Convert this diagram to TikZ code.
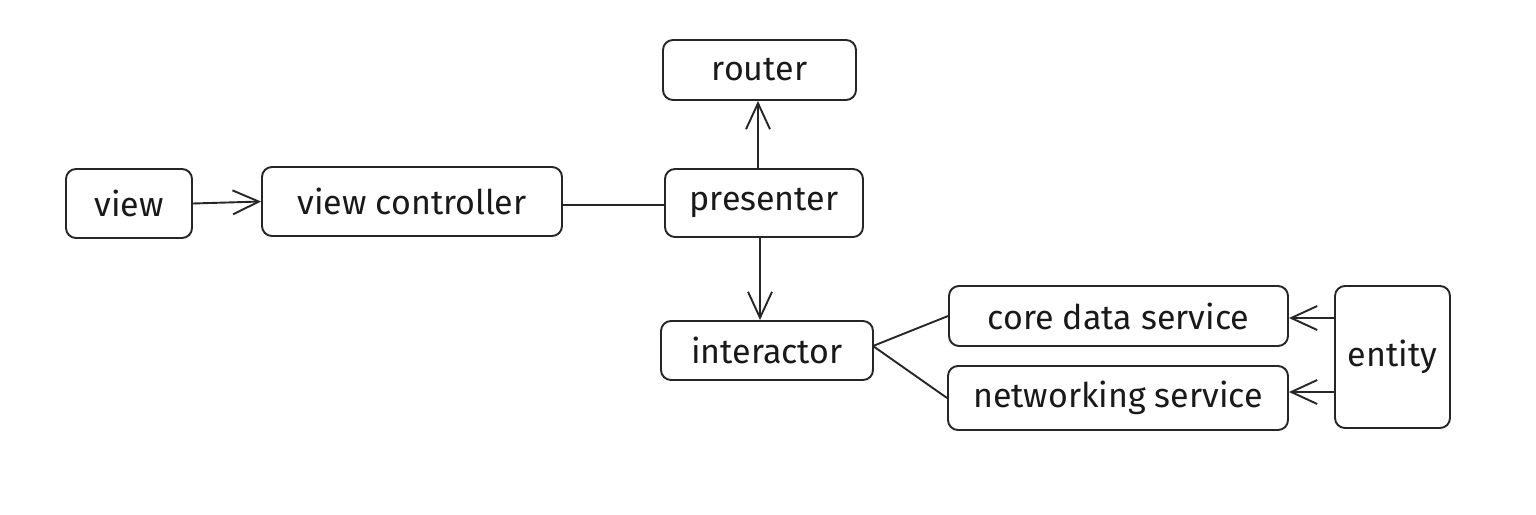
\documentclass[tikz,border=0pt]{standalone}
\usepackage{fontspec}
\setmainfont{Fira Sans}
\usetikzlibrary{arrows.meta}
\begin{document}
\begin{tikzpicture}[x=1pt,y=-1pt,
  box/.style={draw=black!85, line width=1.9pt, rounded corners=10pt, inner sep=0pt, font=\fontsize{34}{38}\selectfont, text=black!90},
  conn/.style={draw=black!85, line width=1.9pt},
  arr/.style={conn, -{Straight Barb[length=26pt,width=24pt,line width=1.9pt]}}]
\useasboundingbox (0,0) rectangle (1536,514);
\node[box, minimum width=126pt, minimum height=69pt] (view) at (129,203.5) {view};
\node[box, minimum width=300pt, minimum height=69pt] (vc) at (412,201.5) {view controller};
\node[box, minimum width=198pt, minimum height=68pt] (pres) at (764,203) {presenter};
\node[box, minimum width=193pt, minimum height=60pt] (router) at (759.5,70) {router};
\node[box, minimum width=212pt, minimum height=59pt] (inter) at (767,350.5) {interactor};
\node[box, minimum width=339pt, minimum height=60pt] (core) at (1118.5,316) {core data service};
\node[box, minimum width=340pt, minimum height=64pt] (net) at (1118,398) {networking service};
\node[box, minimum width=115pt, minimum height=142pt] (entity) at (1392.5,357) {entity};
\draw[arr] (view.east) -- (vc.west);
\draw[conn] (vc.east |- 0,205) -- (pres.west |- 0,205);
\draw[arr] (pres.north -| 758,0) -- (router.south -| 758,0);
\draw[arr] (pres.south -| 760,0) -- (inter.north -| 760,0);
\coordinate (ij) at (873,346);
\draw[conn] (ij) -- (core.west |- 0,316);
\draw[conn] (ij) -- (net.west |- 0,398);
\draw[arr] (entity.west |- 0,318) -- (core.east |- 0,318);
\draw[arr] (entity.west |- 0,392) -- (net.east |- 0,392);
\end{tikzpicture}
\end{document}
